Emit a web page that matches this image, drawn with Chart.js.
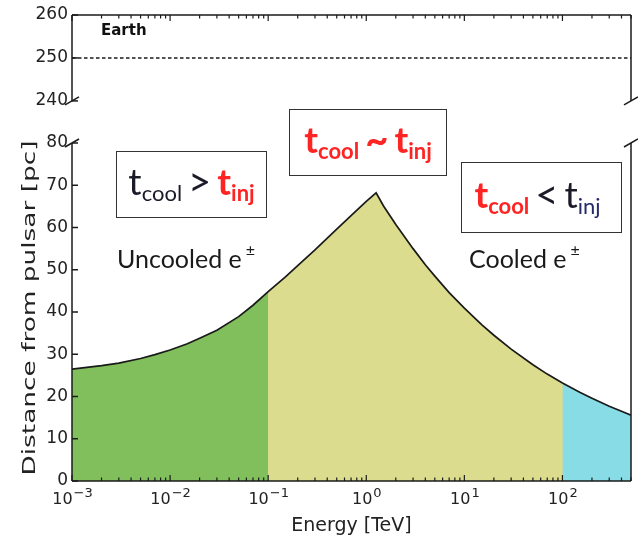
<!DOCTYPE html>
<html>
<head>
<meta charset="utf-8">
<script src="https://cdn.jsdelivr.net/npm/chart.js@4.4.1/dist/chart.umd.min.js"></script>
<style>
    html, body { margin: 0; padding: 0; background: #fff; }
    #wrap { position: relative; width: 638px; height: 537px; }
    #wrap canvas { position: absolute; left: 0; top: 0; }
    .box {
        position: absolute; box-sizing: border-box; border: 1.5px solid #333;
        display: flex; align-items: center; justify-content: center;
        font-family: Lato, "Open Sans", sans-serif; white-space: nowrap; line-height: 1;
    }
    .big { font-size: 37px; }
    .sub { font-size: 22px; position: relative; top: 12px; }
    .op { font-size: 40px; margin: 0 6px; }
    .red { color: #ff2424; font-weight: bold; }
    .dark { color: #1b1b28; }
    .navy { color: #262a6a; }
    .note {
        position: absolute; font-family: Lato, "Open Sans", sans-serif; font-size: 25px;
        color: #1a1a1a; white-space: nowrap; line-height: 1;
    }
    .note sup { font-size: 16px; position: relative; top: -3px; margin-left: 4px; }
</style>
</head>
<body>
<div id="wrap">
    <canvas id="chart" width="638" height="537"></canvas>

    <div class="box" style="left:116px; top:151px; width:151px; height:67px; padding-bottom:8px;">
        <span class="big dark">t</span><span class="sub dark">cool</span><span class="op dark">&gt;</span><span class="big red">t</span><span class="sub red">inj</span>
    </div>
    <div class="box" style="left:289px; top:109px; width:158px; height:67px; padding-bottom:8px;">
        <span class="big red">t</span><span class="sub red">cool</span><span class="op red">~</span><span class="big red">t</span><span class="sub red">inj</span>
    </div>
    <div class="box" style="left:461px; top:162px; width:161px; height:71px; padding-right:8px; padding-bottom:8px;">
        <span class="big red">t</span><span class="sub red">cool</span><span class="op dark">&lt;</span><span class="big dark">t</span><span class="sub navy">inj</span>
    </div>

    <div class="note" style="left:117px; top:245px;">Uncooled e<sup>±</sup></div>
    <div class="note" style="left:469px; top:245px;">Cooled e<sup>±</sup></div>
</div>

<script>
// Distance reached by e± vs. energy
const energyTeV  = [0.001, 0.002, 0.003, 0.005, 0.007, 0.01, 0.015, 0.02, 0.03, 0.05, 0.07, 0.1,
                    0.15, 0.2, 0.3, 0.5, 0.7, 1, 1.26,
                    1.5, 2, 3, 4, 5, 7, 10, 15, 20, 30, 50, 70, 100, 150, 200, 300, 400, 500];
const distancePc = [26.5, 27.3, 27.9, 29.0, 29.9, 31.0, 32.5, 33.8, 35.7, 38.9, 41.6, 44.8,
                    48.3, 51.0, 54.7, 59.6, 62.8, 66.2, 68.2,
                    65.1, 60.7, 55.0, 51.2, 48.5, 44.6, 40.9, 37.0, 34.5, 31.2, 27.5, 25.3, 23.2, 21.0, 19.6, 17.7, 16.5, 15.6];

// Region boundaries (TeV)
const uncooledEnd = 0.1;
const cooledStart = 100;

// Axis ticks
const xTickPowers = [-3, -2, -1, 0, 1, 2];
const topTicks = [240, 250, 260];
const bottomTicks = [0, 10, 20, 30, 40, 50, 60, 70, 80];
const earthDistance = 250;

const points = energyTeV.map((e, i) => ({ x: e, y: distancePc[i] }));
const inRange = (lo, hi) => points.filter(p => p.x >= lo && p.x <= hi);

const tickFont = { family: 'DejaVu Sans', size: 17 };
const ink = '#222';

function seg(ctx, x1, y1, x2, y2) {
    ctx.beginPath();
    ctx.moveTo(x1, y1);
    ctx.lineTo(x2, y2);
    ctx.stroke();
}

// Broken-axis frame: spines, inward ticks, break marks, Earth line, 10^n labels, y title
const framePlugin = {
    id: 'frame',
    afterDraw(chart) {
        const { ctx, chartArea: a, scales } = chart;
        const x = scales.x, y = scales.y, yTop = scales.yTop;
        const t260 = yTop.getPixelForValue(260), t240 = yTop.getPixelForValue(240);
        const b80 = y.getPixelForValue(80), b0 = y.getPixelForValue(0);

        ctx.save();
        ctx.strokeStyle = '#1a1a1a';
        ctx.lineWidth = 1.5;

        // spines
        seg(ctx, a.left, t240, a.left, t260);
        seg(ctx, a.left, t260, a.right, t260);
        seg(ctx, a.right, t260, a.right, t240);
        seg(ctx, a.left, b80, a.left, b0);
        seg(ctx, a.left, b0, a.right, b0);
        seg(ctx, a.right, b0, a.right, b80);

        // break marks
        [[a.left, t240], [a.right, t240], [a.left, b80], [a.right, b80]].forEach(([px, py]) => {
            seg(ctx, px - 7, py + 4, px + 7, py - 4);
        });

        // y ticks (inward)
        topTicks.forEach(v => { const py = yTop.getPixelForValue(v); seg(ctx, a.left, py, a.left + 6, py); });
        bottomTicks.forEach(v => { const py = y.getPixelForValue(v); seg(ctx, a.left, py, a.left + 6, py); });

        // x ticks (inward, top and bottom), majors + minors
        ctx.lineWidth = 1.2;
        xTickPowers.forEach(p => {
            for (let m = 1; m <= 9; m++) {
                const v = m * Math.pow(10, p);
                if (v > x.max) break;
                const px = x.getPixelForValue(v);
                const len = m === 1 ? 6 : 3.5;
                seg(ctx, px, t260, px, t260 + len);
                seg(ctx, px, b0, px, b0 - len);
            }
        });

        // Earth distance
        const ye = yTop.getPixelForValue(earthDistance);
        ctx.setLineDash([3.5, 2.5]);
        ctx.lineWidth = 1.4;
        seg(ctx, a.left, ye, a.right, ye);
        ctx.setLineDash([]);

        ctx.fillStyle = '#111';
        ctx.font = 'bold 15px "DejaVu Sans"';
        ctx.textBaseline = 'middle';
        ctx.fillText('Earth', a.left + 29, yTop.getPixelForValue(256.3));

        // x tick labels as 10 with a raised exponent
        ctx.fillStyle = ink;
        ctx.textBaseline = 'alphabetic';
        xTickPowers.forEach(p => {
            const px = x.getPixelForValue(Math.pow(10, p));
            const base = '10', exp = (p < 0 ? '\u2212' : '') + Math.abs(p);
            ctx.font = '16px "DejaVu Sans"';
            const wb = ctx.measureText(base).width;
            ctx.font = '13px "DejaVu Sans"';
            const we = ctx.measureText(exp).width;
            const x0 = px - (wb + we) / 2;
            ctx.font = '16px "DejaVu Sans"';
            ctx.fillText(base, x0, b0 + 23);
            ctx.font = '13px "DejaVu Sans"';
            ctx.fillText(exp, x0 + wb + 1, b0 + 16);
        });

        // y axis title, stretched along its length like the source figure
        ctx.save();
        ctx.translate(30, (b80 + b0) / 2 - 4);
        ctx.rotate(-Math.PI / 2);
        ctx.font = '18px "DejaVu Sans"';
        ctx.textAlign = 'center';
        ctx.textBaseline = 'middle';
        const title = 'Distance from pulsar [pc]';
        ctx.scale(335 / ctx.measureText(title).width, 1);
        ctx.fillText(title, 0, 0);
        ctx.restore();

        ctx.restore();
    }
};

new Chart(document.getElementById('chart'), {
    type: 'line',
    data: {
        datasets: [
            {
                // outline on top
                data: points,
                yAxisID: 'y',
                borderColor: '#1a1a1a',
                borderWidth: 1.7,
                pointRadius: 0,
                tension: 0,
                fill: false
            },
            {
                data: inRange(0, uncooledEnd),
                yAxisID: 'y',
                borderWidth: 0,
                pointRadius: 0,
                tension: 0,
                fill: 'origin',
                backgroundColor: '#80bf5c'
            },
            {
                data: inRange(cooledStart, Infinity),
                yAxisID: 'y',
                borderWidth: 0,
                pointRadius: 0,
                tension: 0,
                fill: 'origin',
                backgroundColor: '#88dce6'
            },
            {
                // middle colour under the whole curve; the end regions are painted over it
                data: points,
                yAxisID: 'y',
                borderWidth: 0,
                pointRadius: 0,
                tension: 0,
                fill: 'origin',
                backgroundColor: '#dcdc8e'
            }
        ]
    },
    options: {
        responsive: false,
        animation: false,
        layout: { padding: { top: 15, right: 7, bottom: 0, left: 0 } },
        plugins: {
            legend: { display: false },
            tooltip: { enabled: false }
        },
        scales: {
            x: {
                type: 'logarithmic',
                min: 0.001,
                max: 500,
                grid: { display: false, drawTicks: false },
                border: { display: false },
                afterBuildTicks: s => { s.ticks = xTickPowers.map(p => ({ value: Math.pow(10, p) })); },
                ticks: {
                    autoSkip: false,
                    maxRotation: 0,
                    color: 'rgba(0,0,0,0)',
                    font: { family: 'DejaVu Sans', size: 16 },
                    padding: 6,
                    callback: v => '10^' + Math.round(Math.log10(v))
                },
                title: {
                    display: true,
                    text: 'Energy [TeV]',
                    color: ink,
                    font: { family: 'DejaVu Sans', size: 19 },
                    padding: { top: 2, bottom: 0 }
                },
                afterFit: s => { s.height = 56; }
            },
            y: {
                type: 'linear',
                position: 'left',
                stack: 'dist',
                stackWeight: 338,
                min: 0,
                max: 80,
                grid: { display: false, drawTicks: false },
                border: { display: false },
                afterBuildTicks: s => { s.ticks = bottomTicks.map(v => ({ value: v })); },
                ticks: { color: ink, font: tickFont, padding: 4 },
                afterFit: s => { s.width = 72; }
            },
            yTop: {
                type: 'linear',
                position: 'left',
                stack: 'dist',
                stackWeight: 128,
                min: 230.2,
                max: 260,
                grid: { display: false, drawTicks: false },
                border: { display: false },
                afterBuildTicks: s => { s.ticks = topTicks.map(v => ({ value: v })); },
                ticks: { color: ink, font: tickFont, padding: 4 },
                afterFit: s => { s.width = 72; }
            }
        }
    },
    plugins: [framePlugin]
});
</script>
</body>
</html>
